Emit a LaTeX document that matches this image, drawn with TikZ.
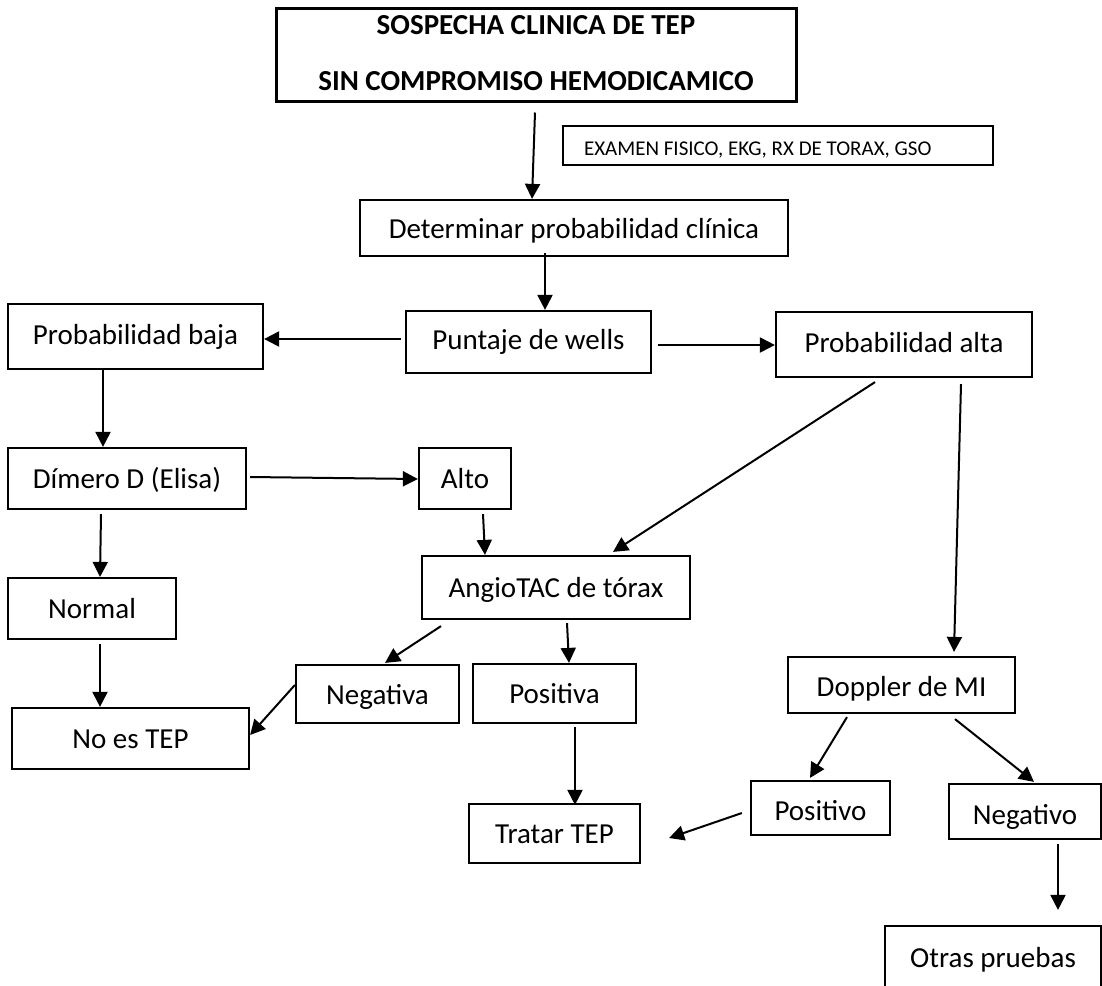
\documentclass[tikz,border=0pt]{standalone}
\usepackage{fontspec}
\setmainfont{Carlito}
\usetikzlibrary{arrows.meta,calc}
\begin{document}
\begin{tikzpicture}[x=1pt,y=-1pt,
  frame/.style={draw, line width=2.2pt, inner sep=0pt},
  box/.style={frame, font=\fontsize{29}{35}\selectfont, text height=20pt, text depth=0pt},
  hi/.style={text depth=5pt},
  lo/.style={text height=25pt, text depth=0pt},
  arr/.style={line width=2pt, -{Triangle[length=15pt,width=15pt]}}]
\clip (0,0) rectangle (1102,985);
\fill[white] (0,0) rectangle (1102,985);
% nodes
\node[frame, line width=3pt, font=\fontsize{29}{56}\selectfont\bfseries, align=center,
      minimum width=520pt, minimum height=93pt] (title) at (536,54.5)
      {SOSPECHA CLINICA DE TEP\\SIN COMPROMISO HEMODICAMICO\rule[-4pt]{0pt}{4pt}};
\node[frame, line width=1.2pt, minimum width=430pt, minimum height=39pt, inner xsep=21pt,
      font=\fontsize{21}{25}\selectfont, text height=19pt, text depth=0pt] (exam) at (778,145.5)
      {\makebox[388pt][l]{EXAMEN FISICO, EKG, RX DE TORAX, GSO}};
\node[box, minimum width=428pt, minimum height=56pt] (det) at (574,228) {Determinar probabilidad clínica};
\node[box, hi, minimum width=245pt, minimum height=62pt] (punt) at (528.5,342) {Puntaje de wells};
\node[box, hi, minimum width=255pt, minimum height=65pt] (baja) at (135.5,336.5) {Probabilidad baja};
\node[box, hi, minimum width=256pt, minimum height=65pt] (alta) at (904,344.5) {Probabilidad alta};
\node[box, minimum width=238pt, minimum height=61pt] (dim) at (127,478.5) {Dímero D (Elisa)};
\node[box, minimum width=92pt, minimum height=61pt] (alto) at (465,478.5) {Alto};
\node[box, minimum width=268pt, minimum height=63pt] (angio) at (556,587.5) {AngioTAC de tórax};
\node[box, minimum width=168pt, minimum height=61pt] (normal) at (92,608.5) {Normal};
\node[box, minimum width=163pt, minimum height=58pt] (neg) at (377.5,694) {Negativa};
\node[box, minimum width=163pt, minimum height=59pt] (pos) at (554.5,693.5) {Positiva};
\node[box, minimum width=237pt, minimum height=61pt] (noes) at (130.5,738.5) {No es TEP};
\node[box, minimum width=171pt, minimum height=59pt] (tratar) at (554.5,833.5) {Tratar TEP};
\node[box, text height=22pt, text depth=0pt, minimum width=227pt, minimum height=56pt] (doppler) at (901.5,685) {Doppler de MI};
\node[box, lo, minimum width=139pt, minimum height=54pt] (positivo) at (820.5,808) {Positivo};
\node[box, lo, minimum width=152pt, minimum height=55pt] (negativo) at (1025,811.5) {Negativo};
\node[box, minimum width=216pt, minimum height=62pt] (otras) at (993,957) {Otras pruebas};
% connectors
\draw[arr] ($(title.south)+(-1,10)$) -- ($(det.north)+(-42,0)$);
\draw[arr] ($(det.south)+(-29,-4)$) -- ($(punt.north)+(16.5,0)$);
\draw[arr] ($(punt.west)+(-4,-3)$) -- ($(baja.east)+(0,2.5)$);
\draw[arr] ($(punt.east)+(6,3)$) -- ($(alta.west)+(0,0.5)$);
\draw[arr] ($(baja.south)+(-32.5,0)$) -- ($(dim.north)+(-24,0)$);
\draw[arr] ($(dim.east)+(3,-1.5)$) -- ($(alto.west)+(0,0.5)$);
\draw[arr] ($(alto.south)+(18,4)$) -- ($(angio.north)+(-71,0)$);
\draw[arr] ($(alta.south)+(-29,4)$) -- ($(angio.north)+(57,-3)$);
\draw[arr] ($(alta.south)+(57,6)$) -- ($(doppler.north)+(52.5,-4)$);
\draw[arr] ($(dim.south)+(-26,4)$) -- ($(normal.north)+(8,0)$);
\draw[arr] ($(normal.south)+(8,4)$) -- ($(noes.north)+(-30.5,0)$);
\draw[arr] ($(angio.south)+(-115,6)$) -- ($(neg.north)+(7.5,-1)$);
\draw[arr] ($(angio.south)+(11,3)$) -- ($(pos.north)+(14.5,0)$);
\draw[arr] ($(neg.west)+(0,-9)$) -- ($(noes.east)+(0,-3.5)$);
\draw[arr] ($(pos.south)+(20.5,3)$) -- ($(tratar.north)+(20.5,2)$);
\draw[arr] ($(doppler.south)+(-54.5,3)$) -- ($(positivo.north)+(-10.5,-2)$);
\draw[arr] ($(doppler.south)+(53.5,5)$) -- ($(negativo.north)+(9,-1)$);
\draw[arr] ($(negativo.south)+(33,4)$) -- ($(otras.north)+(65,-15)$);
\draw[arr] ($(positivo.west)+(-8,5)$) -- ($(tratar.east)+(28,4.5)$);
\end{tikzpicture}
\end{document}
